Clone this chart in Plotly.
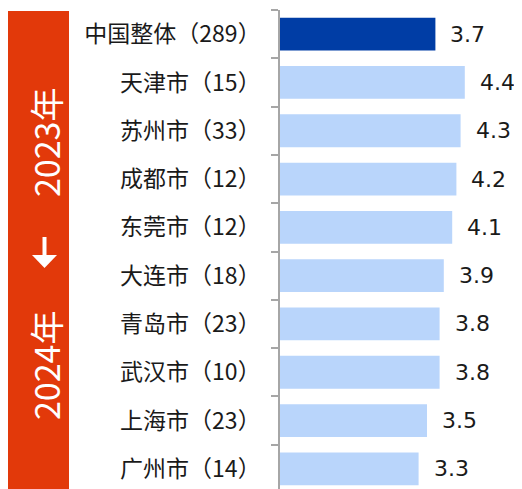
import plotly.graph_objects as go

cities = ["中国整体（289）", "天津市（15）", "苏州市（33）", "成都市（12）", "东莞市（12）",
          "大连市（18）", "青岛市（23）", "武汉市（10）", "上海市（23）", "广州市（14）"]
values = [3.7, 4.4, 4.3, 4.2, 4.1, 3.9, 3.8, 3.8, 3.5, 3.3]
bar_colors = ["#003DA5"] + ["#B9D5FB"] * 9
period_start = "2023年"
period_end = "2024年"

# page has an 8px body margin; figure coords = screen - 8
L, T = 272, 2
W, H = 522, 489
PW, PH = W - L, H - T

def px(s):
    return (s - 8 - L) / PW

def py(s):
    return 1 - (s - 8 - T) / PH

fig = go.Figure()
fig.add_trace(go.Bar(
    x=values, y=cities, orientation="h",
    marker=dict(color=bar_colors, line=dict(width=0)),
    width=0.68, hoverinfo="skip",
))

for c, v in zip(cities, values):
    fig.add_annotation(x=v, y=c, xref="x", yref="y", text=f"{v:.1f}",
                       showarrow=False, xanchor="left", xshift=13,
                       font=dict(family="DejaVu Sans", size=22, color="#1a1a1a"))

# red band on the left
fig.add_shape(type="rect", xref="paper", yref="paper",
              x0=px(8), x1=px(69), y0=-0.05, y1=py(11),
              fillcolor="#E2390A", line=dict(width=0), layer="above")

fig.add_annotation(xref="paper", yref="paper", x=px(45), y=py(143), text=period_start,
                   textangle=-90, showarrow=False, xanchor="center", yanchor="middle",
                   font=dict(family="Noto Sans CJK SC", size=34, color="white"))
fig.add_annotation(xref="paper", yref="paper", x=px(45), y=py(366), text=period_end,
                   textangle=-90, showarrow=False, xanchor="center", yanchor="middle",
                   font=dict(family="Noto Sans CJK SC", size=34, color="white"))
# down arrow
fig.add_shape(type="line", xref="paper", yref="paper",
              x0=px(44.5), x1=px(44.5), y0=py(237), y1=py(258),
              line=dict(color="white", width=4), layer="above")
fig.add_shape(type="path", xref="paper", yref="paper",
              path=f"M {px(32)} {py(255)} L {px(57)} {py(255)} L {px(44.5)} {py(268)} Z",
              fillcolor="white", line=dict(width=0), layer="above")

fig.update_layout(
    width=W, height=H,
    margin=dict(l=L, r=0, t=T, b=0, autoexpand=False),
    plot_bgcolor="white", paper_bgcolor="white",
    showlegend=False,
    xaxis=dict(range=[0, PW / 42], visible=False, fixedrange=True, automargin=False),
    yaxis=dict(type="category", range=[-0.5 + PH / 48.3, -0.5], showgrid=False, automargin=False,
               showline=True, linecolor="#A6A6A6", linewidth=1.5,
               ticks="outside", tickson="boundaries", ticklen=7,
               tickcolor="#A6A6A6", tickwidth=1.5, ticklabelstandoff=13,
               tickfont=dict(family="Noto Sans CJK SC", size=23, color="#1a1a1a")),
)

fig.write_html("out.html")
